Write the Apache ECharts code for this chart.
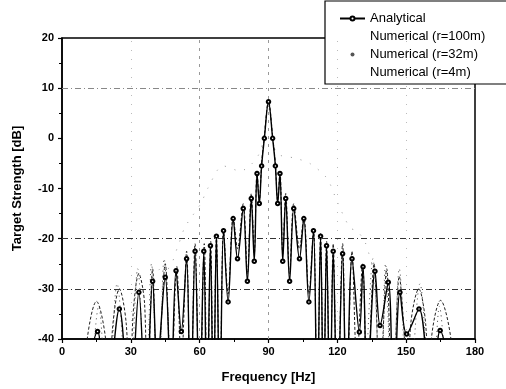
<!DOCTYPE html>
<html>
<head>
<meta charset="utf-8">
<script src="https://cdn.jsdelivr.net/npm/echarts@6/dist/echarts.min.js"></script>
<style>
  html, body { margin: 0; padding: 0; background: #fff; }
  #ts_chart { width: 506px; height: 389px; }
</style>
</head>
<body>
<div id="ts_chart"></div>
<script>
// legend names
var seriesNames = ['Analytical', 'Numerical (r=100m)', 'Numerical (r=32m)', 'Numerical (r=4m)'];

// [frequency, dB] (lobe tops and nulls, nulls below -40 are clipped)
var analyticalData = [
  [8, -55], [15.5, -38.5], [19, -55], [25, -34], [29.5, -55], [33.5, -30.7], [36.5, -55],
  [39.5, -28.5], [41.5, -45], [45, -27.7], [47.5, -50], [49.7, -26.4], [52, -38.5],
  [54.3, -24], [56, -55], [58, -22.5], [60, -55], [61.8, -22.5], [63.2, -55], [64.7, -21.4],
  [66, -55], [67.3, -19.5], [68.8, -55], [70.4, -18.4], [72.4, -32.6], [74.6, -16],
  [76.5, -24], [79, -14], [80.8, -28.5], [82.5, -12], [83.8, -24.5], [85, -7], [86, -13],
  [87, -5.5], [88.2, 0], [90, 7.3], [91.8, 0], [93, -5.5],
  [94, -13], [95, -7], [96.2, -24.5], [97.5, -12], [99.2, -28.5], [101, -14], [103.5, -24],
  [105.4, -16], [107.6, -32.6], [109.6, -18.4], [111.2, -55], [112.7, -19.5], [114, -55],
  [115.3, -21.4], [116.8, -55], [118.2, -22.5], [120, -55], [122.3, -23], [124, -55],
  [126.4, -24], [129.6, -38.6], [131.2, -25.6], [133, -50], [136.4, -26.5], [138.6, -37.3],
  [142.2, -28.7], [144.5, -55], [147.3, -30.7], [150.2, -39], [155.6, -34], [161, -55],
  [164.8, -38.3], [172, -55]
];

var num100Data = [
  [9, -55], [11, -40], [15, -32.5], [19, -40], [20.5, -55], [22, -38], [25, -30], [28, -37],
  [29.5, -55], [31, -35], [33.5, -27], [36, -33], [37, -55], [39.5, -26], [41.5, -50],
  [45, -25], [47.5, -50], [50, -25.5], [52, -45], [54.3, -22.5], [56, -55], [58, -21],
  [60, -55], [62, -21], [63.3, -55], [64.8, -20.5], [66, -55], [67.3, -19], [68.8, -55],
  [70.4, -18], [72.4, -31], [74.6, -15.5], [76.5, -22], [79, -13], [80.8, -27], [82.5, -11],
  [83.8, -23], [85, -6.5], [86, -12.5], [87, -5], [88.2, 0.5], [90, 7.5], [91.8, 0.5],
  [93, -5], [94, -12.5], [95, -6.5], [96.2, -23], [97.5, -11], [99.2, -27], [101, -13],
  [103.5, -22], [105.4, -15.5], [107.6, -31], [109.6, -18], [111.2, -55], [112.7, -19],
  [114, -55], [115.3, -20.5], [116.8, -55], [118.2, -21], [120, -55], [122.3, -21], [124, -55],
  [126.4, -22.5], [128.5, -45], [131, -25], [133, -50], [136, -25], [138.5, -50],
  [141.5, -26], [144, -55], [147, -27.5], [149, -38], [150.5, -55], [152, -37], [155.5, -30],
  [158.5, -37], [160, -55], [161, -40], [165, -32.3], [169.5, -40], [171, -55]
];

var num32Data = [
  [12, -55], [16, -33.5], [20, -55], [24, -29], [29, -55], [33, -26], [36.5, -55],
  [39, -25], [42, -55], [44.5, -24], [48, -55], '-',
  [132, -55], [135.5, -24], [139, -55], [141, -25], [144, -55], [147, -26], [151, -55],
  [156, -29], [161, -55], [164.5, -33.5], [168, -55]
];

var num4Data = [
  [40, -28], [43, -26], [46, -26], [50.6, -21.4], [53.6, -17.7], [60.5, -13], [63.5, -10],
  [70.2, -5.5], [77.6, -6.5], [86, -3], [90, 6], [93.3, -2.8], [102, -4], [108, -5],
  [115.5, -8], [120, -12.7], [125.5, -17.8], [128.6, -18.5], [132, -20.6], [136, -26], [140, -28]
];

// reference lines that survived the scan
var hGrid = [10, -20, -30];
var vGridDark = [60, 90];
var vGridFaint = [30, 120, 150];

var chart = echarts.init(document.getElementById('ts_chart'));

var markLines = [];
hGrid.forEach(function (v) {
  markLines.push({ yAxis: v, lineStyle: { type: [6, 3, 1, 3], color: v === 10 ? '#888' : '#333', width: 1 } });
});
vGridDark.forEach(function (v) {
  markLines.push({ xAxis: v, lineStyle: { type: [3, 5], color: '#999', width: 1 } });
});
vGridFaint.forEach(function (v) {
  markLines.push({ xAxis: v, lineStyle: { type: [1, 8], color: '#bbb', width: 1 } });
});

var option = {
  backgroundColor: '#fff',
  animation: false,
  textStyle: { fontFamily: 'Liberation Sans, Arial, sans-serif' },
  grid: {
    left: 62, right: 31, top: 38, bottom: 49,
    show: true, borderColor: '#000', borderWidth: 1.5, backgroundColor: 'transparent'
  },
  legend: {
    data: [
      { name: seriesNames[0] },
      { name: seriesNames[1], itemStyle: { opacity: 0 }, lineStyle: { opacity: 0 } },
      { name: seriesNames[2], lineStyle: { opacity: 0 } },
      { name: seriesNames[3], itemStyle: { opacity: 0 }, lineStyle: { opacity: 0 } }
    ],
    orient: 'vertical',
    left: 325, top: 1,
    padding: [11, 40, 5, 14],
    itemGap: 5,
    itemWidth: 25, itemHeight: 5,
    backgroundColor: '#fff',
    borderColor: '#000', borderWidth: 1.2, borderRadius: 0,
    textStyle: { fontSize: 13, color: '#000', lineHeight: 13, fontFamily: 'Liberation Sans, Arial, sans-serif' }
  },
  xAxis: {
    type: 'value',
    min: 0, max: 180, interval: 30,
    name: 'Frequency [Hz]',
    nameLocation: 'middle',
    nameGap: 32,
    nameTextStyle: { fontSize: 13, color: '#000', fontWeight: 'bold' },
    axisLine: { onZero: false, lineStyle: { color: '#000', width: 1.5 } },
    axisTick: { length: 4, lineStyle: { color: '#000', width: 1.2 } },
    minorTick: { show: true, splitNumber: 2, length: 3, lineStyle: { color: '#000' } },
    axisLabel: { fontSize: 11, color: '#000', margin: 7, fontWeight: 'bold' },
    splitLine: { show: false }
  },
  yAxis: {
    type: 'value',
    min: -40, max: 20, interval: 10,
    name: 'Target Strength [dB]',
    nameLocation: 'middle',
    nameGap: 38,
    nameTextStyle: { fontSize: 13, color: '#000', fontWeight: 'bold' },
    axisLine: { onZero: false, lineStyle: { color: '#000', width: 1.5 } },
    axisTick: { length: 4, lineStyle: { color: '#000', width: 1.2 } },
    minorTick: { show: true, splitNumber: 2, length: 3, lineStyle: { color: '#000' } },
    axisLabel: { fontSize: 11, color: '#000', margin: 8, fontWeight: 'bold' },
    splitLine: { show: false }
  },
  series: [
    {
      name: seriesNames[0],
      type: 'line',
      data: analyticalData,
      smooth: 0.35,
      clip: true,
      symbol: 'emptyCircle',
      symbolSize: 3.5,
      showAllSymbol: true,
      itemStyle: { color: '#000', borderWidth: 0.8 },
      lineStyle: { color: '#000', width: 1.4 },
      z: 5,
      markLine: { silent: true, symbol: 'none', label: { show: false }, data: markLines }
    },
    {
      name: seriesNames[1],
      type: 'line',
      data: num100Data,
      smooth: 0.35,
      clip: true,
      showSymbol: false,
      symbol: 'none',
      itemStyle: { color: '#222' },
      lineStyle: { color: '#222', width: 1, type: [3, 2] },
      z: 4
    },
    {
      name: seriesNames[2],
      type: 'line',
      data: num32Data,
      smooth: 0.35,
      clip: true,
      connectNulls: false,
      showSymbol: false,
      symbol: 'none',
      itemStyle: { color: '#555' },
      lineStyle: { color: '#444', width: 1, type: [1, 4] },
      z: 3
    },
    {
      name: seriesNames[3],
      type: 'line',
      data: num4Data,
      smooth: 0.3,
      clip: true,
      showSymbol: false,
      symbol: 'none',
      itemStyle: { color: '#999' },
      lineStyle: { color: '#999', width: 1, type: [1, 9] },
      z: 2
    }
  ]
};

chart.setOption(option);

window.addEventListener('resize', function () {
  chart.resize();
});
</script>
</body>
</html>
